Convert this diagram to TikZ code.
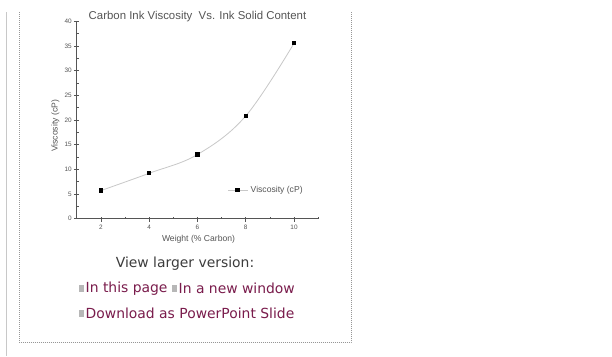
\documentclass[tikz,border=0pt]{standalone}
\usepackage{fontspec}
\setmainfont{Liberation Sans}
\newfontfamily\pagefont{DejaVu Sans}
\definecolor{linkred}{RGB}{122,28,76}
\definecolor{bodygray}{RGB}{60,60,60}
\definecolor{rulegray}{RGB}{200,200,200}
\definecolor{dotgray}{RGB}{150,150,150}
\definecolor{plotgray}{RGB}{85,85,85}
\definecolor{curvegray}{RGB}{200,200,200}
\tikzset{
  axisline/.style={draw=plotgray, line width=0.8pt},
  tickline/.style={draw=plotgray, line width=0.6pt},
  ticklab/.style={font=\fontsize{6.4}{7}\selectfont, text=plotgray, inner sep=0pt},
  axislab/.style={font=\fontsize{8.6}{10}\selectfont, text=plotgray, inner sep=0pt},
  datamark/.style={rectangle, fill=black, minimum size=4.3pt, inner sep=0pt},
  fitcurve/.style={draw=curvegray, line width=0.8pt},
  linktext/.style={font=\pagefont\fontsize{13.9}{16}\selectfont, text=linkred, inner sep=0pt, anchor=west},
  brokenicon/.style={fill=gray!70, inner sep=0pt, minimum width=5pt, minimum height=7pt, opacity=0.8},
}
\begin{document}
\begin{tikzpicture}[x=1pt, y=-1pt]
\useasboundingbox (0,0) rectangle (612,356);
\fill[white] (0,0) rectangle (612,356);

% page rules
\coordinate (railtop) at (6.5,12);
\coordinate (railbot) at (6.5,356);
\draw[rulegray, line width=1.4pt] (railtop) -- (railbot);
\coordinate (boxtl) at (19,12);
\coordinate (boxbl) at (19,342.5);
\coordinate (boxbr) at (351,342.5);
\coordinate (boxtr) at (351,12);
\draw[dotgray, line width=0.7pt, dash pattern=on 1pt off 1pt] (boxtl) -- (boxbl) -- (boxbr) -- (boxtr);

% chart title
\node[font=\fontsize{11.4}{13}\selectfont, text=plotgray, inner sep=0pt] (title) at (197.5,16.5)
  {Carbon Ink Viscosity\ \ Vs. Ink Solid Content};

% plot area in data units
\begin{scope}[shift={(52.75,218.7)}, x=24.125pt, y=4.94pt]
  \coordinate (origin) at (1,0);
  \coordinate (xend) at (11,0);
  \coordinate (yend) at (1,40);
  \draw[axisline] (yend) -- (origin) -- (xend);
  % y ticks
  \foreach \v in {0,5,...,40} {
    \draw[tickline] (1,\v) ++(-3pt,0) -- ++(5pt,0);
    \node[ticklab, anchor=east] at ([xshift=-5pt]1,\v) {\v};
  }
  \foreach \v in {2.5,7.5,...,37.5}
    \draw[tickline] (1,\v) -- ++(2.2pt,0);
  % x ticks
  \foreach \v in {2,4,...,10} {
    \draw[tickline] (\v,0) ++(0,-3pt) -- ++(0,5pt);
    \node[ticklab, anchor=north] at ([yshift=-6pt]\v,0) {\v};
  }
  \foreach \v in {3,5,...,11}
    \draw[tickline] (\v,0) -- ++(0,2.2pt);
  % data
  \coordinate (d1) at (2,5.7);
  \coordinate (d2) at (4,9.2);
  \coordinate (d3) at (6,13.0);
  \coordinate (d4) at (8,20.8);
  \coordinate (d5) at (10,35.5);
  \draw[fitcurve] plot[smooth, tension=0.6] coordinates {(d1) (d2) (d3) (d4) (d5)};
  \foreach \p in {d1,d2,d3,d4,d5}
    \node[datamark] at (\p) {};
\end{scope}

% axis titles
\node[axislab, rotate=90] (ylab) at (55.5,126) {Viscosity (cP)};
\node[axislab] (xlab) at (198.5,239.5) {Weight (\% Carbon)};

% legend
\coordinate (legA) at (228,190);
\coordinate (legB) at (248,190);
\draw[fitcurve] (legA) -- (legB);
\node[datamark] (legmark) at (237.5,190) {};
\node[axislab, anchor=west] (legtext) at (250.5,190) {Viscosity (cP)};

% links below the figure
\node[font=\pagefont\fontsize{13.9}{16}\selectfont, text=bodygray, inner sep=0pt] (larger) at (185,263.5) {View larger version:};
\node[brokenicon] (icon1) at (81,288.5) {};
\node[linktext] (link1) at (85.5,288.5) {In this page};
\node[brokenicon] (icon2) at (174.5,288.5) {};
\node[linktext] (link2) at (178.5,288.5) {In a new window};
\node[brokenicon] (icon3) at (81,313.5) {};
\node[linktext] (link3) at (85.5,313.5) {Download as PowerPoint Slide};
\end{tikzpicture}
\end{document}
